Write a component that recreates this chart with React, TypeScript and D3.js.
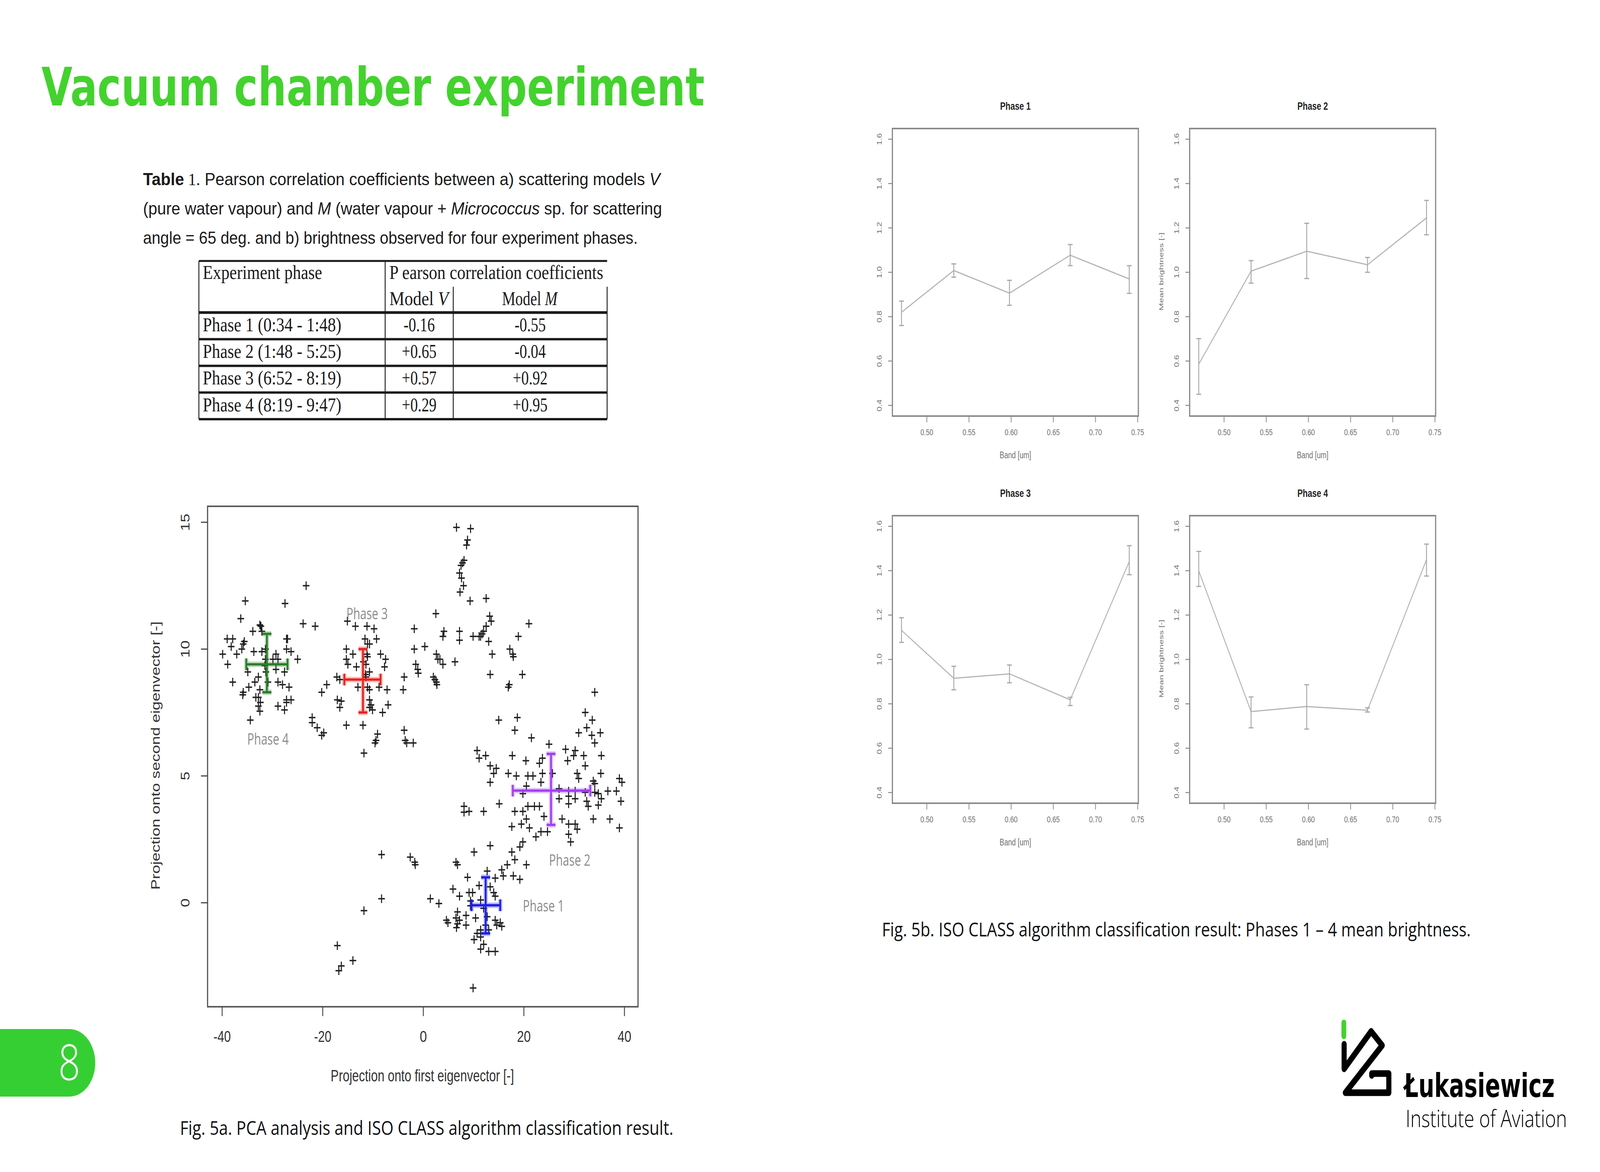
import React, { useEffect } from 'react';
import * as d3 from 'd3';

const W = 5334;
const H = 3000;

// ---- Table 1 ----
const tableRows = ['Phase 1 (0:34 - 1:48)', 'Phase 2 (1:48 - 5:25)', 'Phase 3 (6:52 - 8:19)', 'Phase 4 (8:19 - 9:47)'];
const modelV = ['-0.16', '+0.65', '+0.57', '+0.29'];
const modelM = ['-0.55', '-0.04', '+0.92', '+0.95'];

// ---- Fig 5a: PCA projections [first, second eigenvector] ----
const streamPoints: [number, number][] = [
  [6.6, 14.8], [9.4, 14.75], [8.8, 14.3], [8.6, 14.1], [8.1, 13.5], [7.8, 13.4], [7.5, 13.3], [7.2, 13.0],
  [7.6, 12.8], [8.0, 12.5], [7.3, 12.25], [9.3, 11.9], [12.5, 12.0], [2.5, 11.4], [13.2, 11.3], [13.5, 11.1],
  [12.5, 10.9], [12.0, 10.7], [11.7, 10.6], [11.4, 10.5], [9.9, 10.5], [11.1, 10.5], [7.2, 10.7], [7.2, 10.35],
  [4.1, 10.7], [3.9, 10.5], [13.0, 10.3], [13.7, 9.8], [17.2, 10.0], [17.8, 9.8], [17.9, 9.7], [18.9, 10.5],
  [21.0, 11.0], [13.3, 9.0], [19.7, 9.0], [16.9, 8.5], [17.1, 8.6], [34.1, 8.3], [6.3, 9.5], [2.6, 9.8],
  [2.9, 9.6], [3.3, 9.6], [3.9, 9.4], [0.3, 10.1], [-1.8, 10.8], [-1.8, 10.0], [-1.5, 9.4], [-1.1, 9.2],
  [-1.0, 9.05], [2.0, 8.9], [2.3, 8.8], [2.6, 8.7], [2.7, 8.6], [-3.8, 8.9], [-4.0, 8.4], [-23.3, 12.5],
  [-23.9, 11.0], [-21.5, 10.9],
];

const phase4Points: [number, number][] = [
  [-35.4, 11.9], [-27.5, 11.8], [-36.3, 11.2], [-32.5, 10.95], [-32.3, 10.9], [-32.1, 10.7], [-33.9, 10.7],
  [-39.0, 10.4], [-37.9, 10.4], [-35.6, 10.3], [-35.8, 10.2], [-38.2, 10.1], [-37.1, 9.8], [-36.1, 10.0],
  [-33.7, 9.9], [-31.4, 10.0], [-31.4, 9.6], [-29.3, 9.8], [-29.9, 9.6], [-28.9, 9.6], [-27.2, 10.4],
  [-27.0, 10.4], [-27.2, 10.0], [-26.3, 9.9], [-25.0, 9.6], [-39.9, 9.8], [-38.9, 9.4], [-34.9, 9.1],
  [-32.8, 8.9], [-31.3, 9.1], [-29.3, 9.2], [-27.6, 9.1], [-37.9, 8.7], [-33.5, 8.7], [-34.7, 8.5],
  [-32.5, 8.4], [-30.9, 8.7], [-28.9, 8.7], [-28.0, 8.6], [-26.7, 8.5], [-35.8, 8.3], [-35.9, 8.2],
  [-32.8, 8.1], [-33.3, 8.1], [-32.4, 7.9], [-27.2, 8.0], [-26.3, 8.0], [-32.8, 7.75], [-32.5, 7.55],
  [-28.9, 7.75], [-27.6, 7.6], [-34.4, 7.2], [-27.2, 7.9], [-32.1, 9.9], [-31.5, 9.35],
];

const phase3Points: [number, number][] = [
  [-15.1, 11.1], [-13.5, 10.9], [-11.2, 10.9], [-9.8, 10.8], [-11.6, 10.4], [-9.3, 10.4], [-10.7, 10.2],
  [-11.1, 10.2], [-15.3, 10.0], [-15.3, 9.6], [-14.0, 9.8], [-15.0, 9.4], [-13.3, 9.3], [-11.9, 9.5],
  [-11.4, 9.4], [-8.5, 9.8], [-7.5, 9.6], [-7.7, 9.3], [-11.2, 9.8], [-11.1, 9.7], [-17.2, 8.9],
  [-16.6, 8.8], [-19.2, 8.6], [-20.2, 8.3], [-13.0, 8.5], [-11.1, 8.5], [-10.7, 8.4], [-8.8, 8.5],
  [-7.2, 8.4], [-10.7, 9.1], [-17.1, 8.0], [-16.6, 7.7], [-16.3, 7.95], [-10.7, 8.0], [-10.4, 7.8],
  [-10.7, 7.7], [-10.1, 7.6], [-7.0, 7.8], [-8.1, 7.5], [-22.1, 7.3], [-22.1, 7.1], [-21.1, 6.9],
  [-19.8, 6.7], [-20.2, 6.6], [-15.3, 7.0], [-12.0, 7.0], [-9.1, 6.65], [-9.4, 6.4], [-9.6, 6.3],
  [-11.8, 5.9], [-3.8, 6.8], [-3.6, 6.4], [-3.3, 6.3], [-2.0, 6.3], [-11.4, 8.9], [-11.5, 9.0],
];

const phase2Points: [number, number][] = [
  [32.2, 7.5], [33.6, 7.2], [15.0, 7.2], [18.7, 7.3], [18.2, 6.8], [30.9, 6.7], [32.5, 6.9], [33.5, 6.6],
  [35.2, 6.7], [21.5, 6.5], [34.1, 6.3], [25.0, 6.25], [28.3, 6.05], [30.2, 6.0], [29.9, 5.8], [31.9, 5.8],
  [35.4, 5.8], [10.7, 6.0], [12.4, 5.8], [11.1, 5.7], [17.7, 5.8], [20.4, 5.6], [23.1, 5.5], [23.7, 5.7],
  [28.7, 5.6], [13.3, 5.4], [14.5, 5.3], [14.0, 5.1], [32.2, 5.4], [30.6, 5.1], [30.9, 4.9], [35.3, 5.1],
  [16.9, 5.1], [18.5, 5.0], [20.8, 5.0], [21.8, 5.0], [23.7, 5.1], [25.7, 5.1], [13.3, 4.75], [23.4, 4.75],
  [20.5, 4.6], [33.8, 4.8], [34.1, 4.7], [39.0, 4.9], [39.5, 4.75], [36.7, 4.4], [38.4, 4.4], [39.3, 4.0],
  [27.0, 4.5], [28.9, 4.4], [30.2, 4.4], [32.2, 4.35], [34.1, 4.35], [34.8, 4.3], [35.4, 4.1], [28.9, 4.2],
  [30.2, 4.1], [19.8, 4.3], [27.0, 4.1], [32.5, 4.0], [28.9, 3.9], [32.8, 3.8], [34.8, 3.85], [20.8, 3.8],
  [22.1, 3.8], [23.1, 3.8], [8.1, 3.8], [12.0, 3.6], [15.1, 3.9], [8.1, 3.57], [9.1, 3.6], [18.2, 3.6],
  [19.8, 3.6], [20.5, 3.3], [24.0, 3.4], [27.6, 3.3], [28.9, 3.1], [30.2, 3.1], [30.6, 2.9], [33.8, 3.3],
  [37.1, 3.3], [39.0, 2.95], [17.6, 3.0], [19.5, 3.1], [21.1, 2.95], [22.4, 2.6], [23.4, 2.8], [24.7, 2.8],
  [28.9, 2.7], [29.3, 2.4], [19.8, 2.4], [19.2, 2.2], [13.3, 2.25], [10.1, 2.0], [17.6, 2.0], [18.2, 1.7],
  [20.5, 1.5], [16.7, 1.5], [15.6, 1.3], [6.5, 1.6], [6.8, 1.5], [8.8, 1.0], [12.7, 1.25], [14.3, 0.97],
  [15.9, 1.06], [17.9, 1.06], [19.2, 0.92],
];

const phase1Points: [number, number][] = [
  [11.1, 0.68], [13.3, 0.63], [14.0, 0.4], [5.9, 0.54], [9.1, 0.4], [9.8, 0.4], [7.2, 0.26], [9.4, 0.07],
  [11.4, 0.11], [14.3, 0.26], [1.4, 0.16], [3.1, -0.03], [9.4, -0.12], [12.0, -0.22], [6.8, -0.36],
  [8.5, -0.5], [10.4, -0.6], [12.7, -0.55], [6.5, -0.6], [7.2, -0.69], [4.6, -0.69], [4.9, -0.79],
  [6.8, -0.83], [8.5, -0.88], [14.3, -0.69], [15.3, -0.79], [15.6, -0.93], [12.4, -0.88], [11.4, -1.07],
  [13.0, -1.07], [10.7, -1.21], [11.4, -1.35], [10.1, -1.45], [12.0, -1.64], [11.4, -1.83], [13.0, -1.92],
  [14.3, -1.92], [6.6, -0.98], [14.6, -0.88],
];

const strayPoints: [number, number][] = [
  [-8.3, 1.9], [-2.6, 1.8], [-1.7, 1.6], [-1.6, 1.5], [-8.3, 0.16], [-11.8, -0.31], [-17.1, -1.69],
  [-14.0, -2.28], [-16.3, -2.49], [-16.8, -2.68], [9.9, -3.36],
];

// ISO CLASS cluster means with spread (x range, y range)
const clusterNames = ['Phase 4', 'Phase 3', 'Phase 2', 'Phase 1'];
const clusterCx = [-31.1, -12.0, 25.4, 12.4];
const clusterCy = [9.4, 8.8, 4.42, -0.1];
const clusterXLo = [-35.2, -15.7, 17.8, 9.6];
const clusterXHi = [-27.0, -8.5, 33.2, 15.3];
const clusterYLo = [8.3, 7.5, 3.07, -1.21];
const clusterYHi = [10.6, 10.0, 5.87, 1.0];
const clusterLabelX = [-35.0, -15.3, 25.0, 19.8];
const clusterLabelY = [6.45, 11.4, 1.68, -0.12];
const clusterColors = ['#2b7d2b', '#e8231f', '#a040f0', '#1f1fe6'];

const scatterXTicks = [-40, -20, 0, 20, 40];
const scatterYTicks = [0, 5, 10, 15];

// ---- Fig 5b: mean brightness per band ----
const bands = [0.47, 0.532, 0.598, 0.67, 0.74];
const bandTicks = [0.5, 0.55, 0.6, 0.65, 0.7, 0.75];
const brightTicks = [0.4, 0.6, 0.8, 1.0, 1.2, 1.4, 1.6];

const phase1Mean = [0.82, 1.008, 0.906, 1.077, 0.97];
const phase1Lo = [0.76, 0.978, 0.851, 1.03, 0.905];
const phase1Hi = [0.87, 1.038, 0.964, 1.125, 1.03];
const phase2Mean = [0.586, 1.005, 1.095, 1.034, 1.245];
const phase2Lo = [0.45, 0.951, 0.972, 1.0, 1.169];
const phase2Hi = [0.701, 1.053, 1.221, 1.067, 1.324];
const phase3Mean = [1.131, 0.915, 0.935, 0.818, 1.441];
const phase3Lo = [1.077, 0.863, 0.895, 0.792, 1.382];
const phase3Hi = [1.188, 0.969, 0.975, 0.829, 1.513];
const phase4Mean = [1.399, 0.765, 0.788, 0.771, 1.45];
const phase4Lo = [1.329, 0.692, 0.686, 0.763, 1.376];
const phase4Hi = [1.487, 0.831, 0.886, 0.782, 1.52];

const SANS = "'Liberation Sans', Arial, sans-serif";
const SERIF = "'Liberation Serif', 'Times New Roman', serif";
const CAL = "'Open Sans', 'Noto Sans', sans-serif";

const plusPath = (pts: [number, number][], x: (v: number) => number, y: (v: number) => number, r = 11) =>
  pts
    .map(([a, b]) => {
      const cx = x(a);
      const cy = y(b);
      return `M${cx - r},${cy}H${cx + r}M${cx},${cy - r}V${cy + r}`;
    })
    .join('');

const Table: React.FC = () => {
  const left = 663;
  const right = 2024;
  const c1 = 1284;
  const c2 = 1511;
  const rowScale = d3.scaleBand<string>().domain(tableRows).range([800, 1073]);
  const ink = '#1a1a1a';
  return (
    <g>
      <text x={477} y={474} fontFamily={SANS} fontSize={44} fill={ink} textLength={1724} lengthAdjust="spacingAndGlyphs">
        <tspan fontWeight="bold">Table</tspan>
        <tspan fontFamily={SERIF}> 1.</tspan>
        <tspan> Pearson correlation coefficients between a) scattering models </tspan>
        <tspan fontStyle="italic">V</tspan>
      </text>
      <text x={477} y={549} fontFamily={SANS} fontSize={44} fill={ink} textLength={1730} lengthAdjust="spacingAndGlyphs">
        <tspan>(pure water vapour) and </tspan>
        <tspan fontStyle="italic">M</tspan>
        <tspan> (water vapour + </tspan>
        <tspan fontStyle="italic">Micrococcus</tspan>
        <tspan> sp. for scattering</tspan>
      </text>
      <text x={477} y={624} fontFamily={SANS} fontSize={44} fill={ink} textLength={1649} lengthAdjust="spacingAndGlyphs">
        angle = 65 deg. and b) brightness observed for four experiment phases.
      </text>

      {/* grid */}
      <g stroke={ink}>
        <line x1={left} x2={right} y1={668} y2={668} strokeWidth={5} />
        <line x1={left} x2={right} y1={800} y2={800} strokeWidth={7} />
        {tableRows.slice(1).map((r) => (
          <line key={r} x1={left} x2={right} y1={rowScale(r)} y2={rowScale(r)} strokeWidth={6} />
        ))}
        <line x1={left} x2={right} y1={1073} y2={1073} strokeWidth={6} />
        <line x1={left} x2={left} y1={668} y2={1073} strokeWidth={3} />
        <line x1={c1} x2={c1} y1={668} y2={1073} strokeWidth={3} />
        <line x1={c2} x2={c2} y1={734} y2={1073} strokeWidth={3} />
        <line x1={right} x2={right} y1={734} y2={1073} strokeWidth={3} />
      </g>
      <g fontFamily={SERIF} fontSize={50} fill={ink}>
        <text x={676} y={714} textLength={398} lengthAdjust="spacingAndGlyphs">Experiment phase</text>
        <text x={1298} y={714} textLength={713} lengthAdjust="spacingAndGlyphs">P earson correlation coefficients</text>
        <text x={1298} y={781} textLength={197} lengthAdjust="spacingAndGlyphs">
          Model <tspan fontStyle="italic">V</tspan>
        </text>
        <text x={1766} y={781} textAnchor="middle">
          Model <tspan fontStyle="italic">M</tspan>
        </text>
        {tableRows.map((r, i) => (
          <g key={r}>
            <text x={676} y={(rowScale(r) ?? 0) + 48} textLength={462} lengthAdjust="spacingAndGlyphs">{r}</text>
            <text x={(c1 + c2) / 2} y={(rowScale(r) ?? 0) + 48} textAnchor="middle">{modelV[i]}</text>
            <text x={(c2 + right) / 2} y={(rowScale(r) ?? 0) + 48} textAnchor="middle">{modelM[i]}</text>
          </g>
        ))}
      </g>
    </g>
  );
};

const Scatter: React.FC = () => {
  const X0 = 692;
  const X1 = 2127;
  const Y0 = 1296;
  const Y1 = 2577;
  const x = d3.scaleLinear().domain([-42.9, 42.7]).range([X0, X1]);
  const y = d3.scaleLinear().domain([-4.1, 15.63]).range([Y1, Y0]);
  const allPts = [...streamPoints, ...phase4Points, ...phase3Points, ...phase2Points, ...phase1Points, ...strayPoints];
  const cap = 15;
  return (
    <g>
      <path d={plusPath(allPts, x, y)} stroke="#1e1e1e" strokeWidth={3.5} fill="none" />
      {clusterNames.map((n, i) => {
        const cx = x(clusterCx[i]);
        const cy = y(clusterCy[i]);
        const xl = x(clusterXLo[i]);
        const xh = x(clusterXHi[i]);
        const yl = y(clusterYLo[i]);
        const yh = y(clusterYHi[i]);
        const d = `M${xl},${cy}H${xh}M${xl},${cy - cap}V${cy + cap}M${xh},${cy - cap}V${cy + cap}` +
          `M${cx},${yl}V${yh}M${cx - cap},${yl}H${cx + cap}M${cx - cap},${yh}H${cx + cap}`;
        return (
          <g key={n}>
            <path d={d} stroke={clusterColors[i]} strokeWidth={14} opacity={0.3} fill="none" />
            <path d={d} stroke={clusterColors[i]} strokeWidth={6} fill="none" />
            <text
              x={x(clusterLabelX[i])}
              y={y(clusterLabelY[i])}
              dy="0.35em"
              fontFamily={CAL}
              fontSize={40}
              fill="#8c8c8c"
              textLength={138}
              lengthAdjust="spacingAndGlyphs"
            >
              {n}
            </text>
          </g>
        );
      })}
      <rect x={X0} y={Y0} width={X1 - X0} height={Y1 - Y0} fill="none" stroke="#5a5a5a" strokeWidth={4} />
      <g stroke="#444" strokeWidth={3}>
        {scatterXTicks.map((t) => (
          <line key={t} x1={x(t)} x2={x(t)} y1={Y1} y2={Y1 + 24} />
        ))}
        {scatterYTicks.map((t) => (
          <line key={t} x1={X0} x2={X0 - 22} y1={y(t)} y2={y(t)} />
        ))}
      </g>
      <g fontFamily={SANS} fontSize={40} fill="#333" textAnchor="middle">
        {scatterXTicks.map((t) => (
          <text key={t} x={x(t)} y={2667} textLength={t < 0 ? 58 : t === 0 ? 24 : 46} lengthAdjust="spacingAndGlyphs">{t}</text>
        ))}
        {scatterYTicks.map((t) => (
          <text key={t} transform={`translate(631,${y(t)}) rotate(-90)`}>{t}</text>
        ))}
        <text x={1408} y={2768} fontSize={42} textLength={611} lengthAdjust="spacingAndGlyphs">
          Projection onto first eigenvector [-]
        </text>
        <text transform="translate(533,1934) rotate(-90)" fontSize={42} textLength={687} lengthAdjust="spacingAndGlyphs">
          Projection onto second eigenvector [-]
        </text>
      </g>
    </g>
  );
};

interface PanelProps {
  left: number;
  top: number;
  title: string;
  mean: number[];
  lo: number[];
  hi: number[];
  ylabelX?: number;
}

const Panel: React.FC<PanelProps> = ({ left, top, title, mean, lo, hi, ylabelX }) => {
  const w = 820;
  const h = 736;
  const x = d3.scaleLinear().domain([0.4592, 0.7508]).range([left, left + w]);
  const y = d3.scaleLinear().domain([0.352, 1.648]).range([top + h, top]);
  const line = d3
    .line<number>()
    .x((_, i) => x(bands[i]))
    .y((d) => y(d));
  const cap = 8;
  return (
    <g>
      <text x={left + w / 2} y={top - 48} textAnchor="middle" fontFamily={SANS} fontWeight="bold" fontSize={27} fill="#222">
        {title}
      </text>
      <path d={line(mean) ?? ''} fill="none" stroke="#b4b4b4" strokeWidth={3} />
      <g stroke="#a8a8a8" strokeWidth={3}>
        {bands.map((b, i) => (
          <path
            key={b}
            d={`M${x(b)},${y(lo[i])}V${y(hi[i])}M${x(b) - cap},${y(lo[i])}H${x(b) + cap}M${x(b) - cap},${y(hi[i])}H${x(b) + cap}`}
          />
        ))}
      </g>
      <rect x={left} y={top} width={w} height={h} fill="none" stroke="#8a8a8a" strokeWidth={4} />
      <g stroke="#8a8a8a" strokeWidth={2.5}>
        {bandTicks.map((t) => (
          <line key={t} x1={x(t)} x2={x(t)} y1={top + h} y2={top + h + 16} />
        ))}
        {brightTicks.map((t) => (
          <line key={t} x1={left} x2={left - 14} y1={y(t)} y2={y(t)} />
        ))}
      </g>
      <g fontFamily={SANS} fontSize={22} fill="#707070" textAnchor="middle">
        {bandTicks.map((t) => (
          <text key={t} x={x(t)} y={top + h + 49}>{d3.format('.2f')(t)}</text>
        ))}
        {brightTicks.map((t) => (
          <text key={t} transform={`translate(${left - 36},${y(t)}) rotate(-90)`}>{d3.format('.1f')(t)}</text>
        ))}
        <text x={left + w / 2} y={top + h + 108} fontSize={23}>Band [um]</text>
        {ylabelX !== undefined && (
          <text transform={`translate(${ylabelX},${top + 366}) rotate(-90)`} fontSize={19} textLength={200} lengthAdjust="spacingAndGlyphs">
            Mean brightness [-]
          </text>
        )}
      </g>
    </g>
  );
};

const Logo: React.FC = () => (
  <g>
    <line x1={4480} y1={2618} x2={4480} y2={2652} stroke="#44d12e" strokeWidth={16} strokeLinecap="round" />
    <path
      d="M4481,2673 V2736 L4571,2640 L4608,2676 L4485,2797 H4630 V2748 H4573 V2753"
      fill="none"
      stroke="#000"
      strokeWidth={17}
      strokeLinejoin="round"
      strokeLinecap="round"
    />
    <text x={4681} y={2808} fontFamily="'DejaVu Sans', sans-serif" fontWeight="bold" fontSize={84} fill="#000" textLength={502} lengthAdjust="spacingAndGlyphs">
      Łukasiewicz
    </text>
    <text x={4686} y={2885} fontFamily={CAL} fontWeight={300} fontSize={60} fill="#000" textLength={538} lengthAdjust="spacingAndGlyphs">
      Institute of Aviation
    </text>
  </g>
);

const App: React.FC = () => {
  useEffect(() => {
    document.body.style.margin = '0';
    document.body.style.overflow = 'hidden';
  }, []);
  return (
    <svg
      viewBox={`0 0 ${W} ${H}`}
      preserveAspectRatio="none"
      style={{ position: 'fixed', left: 0, top: 0, width: '100vw', height: '100vh', display: 'block', background: '#fff' }}
    >
      <rect width={W} height={H} fill="#fff" />
      <text x={138} y={270} fontFamily="'DejaVu Sans', Verdana, sans-serif" fontWeight="bold" fontSize={135} fill="#44d22e" textLength={2211} lengthAdjust="spacingAndGlyphs">
        Vacuum chamber experiment
      </text>

      <Table />
      <Scatter />

      <Panel left={2975} top={329} title="Phase 1" mean={phase1Mean} lo={phase1Lo} hi={phase1Hi} />
      <Panel left={3966} top={329} title="Phase 2" mean={phase2Mean} lo={phase2Lo} hi={phase2Hi} ylabelX={3878} />
      <Panel left={2975} top={1320} title="Phase 3" mean={phase3Mean} lo={phase3Lo} hi={phase3Hi} />
      <Panel left={3966} top={1320} title="Phase 4" mean={phase4Mean} lo={phase4Lo} hi={phase4Hi} ylabelX={3878} />

      <text x={600} y={2905} fontFamily={CAL} fontSize={50} fill="#111" textLength={1645} lengthAdjust="spacingAndGlyphs">
        Fig. 5a. PCA analysis and ISO CLASS algorithm classification result.
      </text>
      <text x={2940} y={2397} fontFamily={CAL} fontSize={50} fill="#111" textLength={1963} lengthAdjust="spacingAndGlyphs">
        Fig. 5b. ISO CLASS algorithm classification result: Phases 1 – 4 mean brightness.
      </text>

      {/* page tab */}
      <path d="M0,2634 H231 A86.5,86.5 0 0 1 231,2807 H0 Z" fill="#36cf33" />
      <text x={231} y={2765} textAnchor="middle" fontFamily={CAL} fontWeight={300} fontSize={128} fill="#fff">
        8
      </text>

      <Logo />
    </svg>
  );
};

export default App;
